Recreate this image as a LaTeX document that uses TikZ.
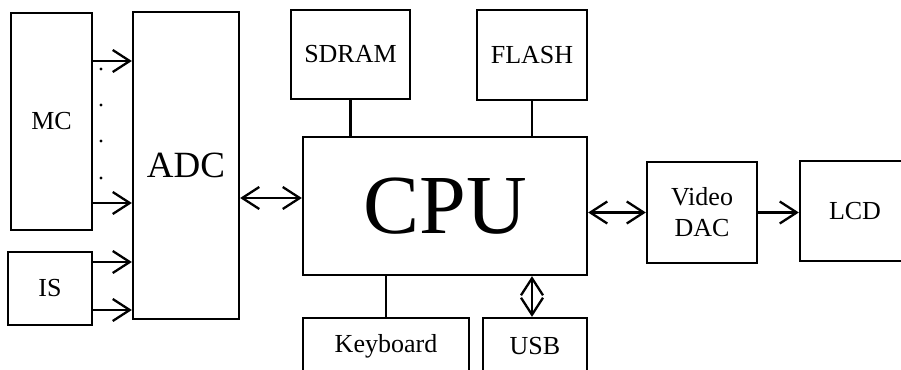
\documentclass[tikz,border=0pt]{standalone}
\usepackage{fontspec}
\setmainfont{Liberation Serif}
\usepackage{tikz}
\usetikzlibrary{arrows.meta}

\begin{document}
\begin{tikzpicture}[x=1pt,y=-1pt,
    blk/.style={draw,line width=2.3pt,inner sep=0pt,align=center,font=\fontsize{26}{31}\selectfont},
    con/.style={line width=2.3pt},
    arr/.style={con,-{Straight Barb[length=17pt,width=22pt]}},
    biarr/.style={con,{Straight Barb[length=17pt,width=22pt]}-{Straight Barb[length=17pt,width=22pt]}}]

\clip (0,0) rectangle (901,369);

% input side
\node[blk,minimum width=81,minimum height=217] (mc) at (51.5,121.5) {MC};
\node[blk,minimum width=84,minimum height=73] (is) at (50,288.5) {IS};
\node[blk,minimum width=106,minimum height=307,font=\fontsize{37}{40}\selectfont] (adc) at (186,165.5) {ADC};

% memories
\node[blk,minimum width=119,minimum height=89] (sdram) at (350.5,54.5) {SDRAM};
\node[blk,minimum width=110,minimum height=90] (flash) at (532,55) {FLASH};

\node[blk,minimum width=284,minimum height=138,font=\fontsize{84}{90}\selectfont] (cpu) at (445,206) {CPU};

% bottom row, cut by the frame
\node[blk,minimum width=166,minimum height=56] (kbd) at (386,346) {Keyboard};
\node[blk,minimum width=104,minimum height=56] (usb) at (535,346) {USB};

% output side
\node[blk,minimum width=110,minimum height=101] (dac) at (702,212.5) {Video\\DAC};
\node[blk,minimum width=110,minimum height=100] (lcd) at (855,211) {LCD};

% mc and is into adc
\coordinate (m1) at ([yshift=60.5]mc.east);
\coordinate (m2) at ([yshift=-81.5]mc.east);
\coordinate (s1) at ([yshift=26.5]is.east);
\coordinate (s2) at ([yshift=-21.5]is.east);
\draw[arr] (m1) -- (m1 -| adc.west);
\draw[arr] (m2) -- (m2 -| adc.west);
\draw[arr] (s1) -- (s1 -| adc.west);
\draw[arr] (s2) -- (s2 -| adc.west);
\foreach \d in {69,105,141,178}
    \fill (101,\d) circle (1.6);

% cpu links
\coordinate (a1) at ([yshift=-32.5]adc.east);
\draw[biarr] (a1) -- (a1 -| cpu.west);
\draw[con] (sdram.south) -- (sdram.south |- cpu.north);
\draw[con] (flash.south) -- (flash.south |- cpu.north);
\draw[con] (kbd.north) -- (kbd.north |- cpu.south);
\coordinate (u1) at ([xshift=-3]usb.north);
\draw[biarr] (u1 |- cpu.south) -- (u1);
\draw[biarr] (cpu.east |- dac.west) -- (dac.west);
\draw[arr] (dac.east) -- (dac.east -| lcd.west);

\end{tikzpicture}
\end{document}
